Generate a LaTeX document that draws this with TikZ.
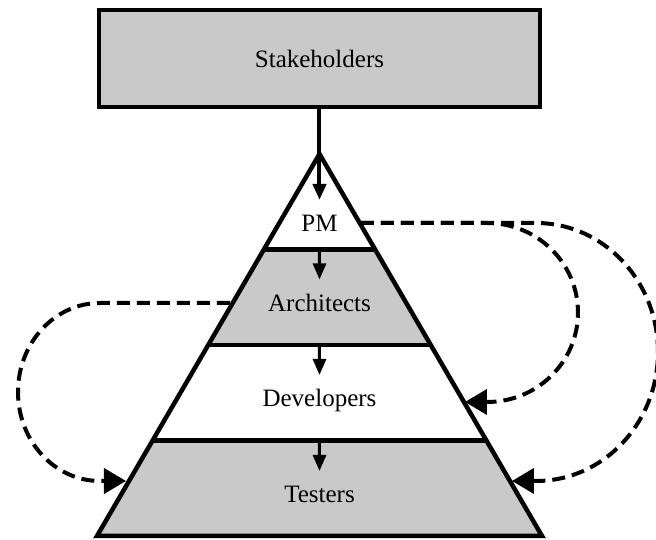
\documentclass[tikz,border=0pt]{standalone}
\usepackage{fontspec}
\setmainfont{Liberation Serif}
\usetikzlibrary{arrows.meta,calc}

\definecolor{tiergray}{RGB}{201,201,201}

\tikzset{
  pyramid/.style={line width=1.8pt},
  lbl/.style={font=\fontsize{10}{12}\selectfont, inner xsep=2pt, inner ysep=4.6pt,
    text height=8pt, text depth=0pt, anchor=base},
  tierarrow/.style={line width=1.2pt, -{Triangle[length=6.4pt,width=5.2pt]}},
  feedback/.style={line width=1.6pt, dash pattern=on 5.2pt off 2.8pt,
    -{Triangle[length=8.8pt,width=10pt]}}
}

\begin{document}
\begin{tikzpicture}[x=0.4pt,y=0.4pt]
\fill[white] (0,0) rectangle (656,540);
\useasboundingbox (0,0) rectangle (656,540);

% pyramid corners and tier lines
\coordinate (apex) at (319.5,386);
\coordinate (bl) at (97,4);
\coordinate (br) at (542,4);
\foreach \i/\f in {1/0.25,2/0.5,3/0.75} {
  \coordinate (s\i l) at ($(apex)!\f!(bl)$);
  \coordinate (s\i r) at ($(apex)!\f!(br)$);
  \coordinate (m\i) at ($(s\i l)!0.5!(s\i r)$);
}

% grey tiers
\fill[tiergray] (s1l) -- (s1r) -- (s2r) -- (s2l) -- cycle;
\fill[tiergray] (s3l) -- (s3r) -- (br) -- (bl) -- cycle;
\draw[pyramid] (apex) -- (br) -- (bl) -- cycle;
\foreach \i in {1,2,3}
  \draw[pyramid] (s\i l) -- (s\i r);

\node[draw, pyramid, fill=tiergray, minimum width=176.4pt, minimum height=38.8pt,
  font=\fontsize{10}{12}\selectfont] (stake) at (319.5,481.5) {Stakeholders};

\node[lbl] (pm) at (319.5,308) {PM};
\node[lbl] (arch) at (319.5,228.5) {Architects};
\node[lbl] (dev) at (319.5,133) {Developers};
\node[lbl] (test) at (319.5,37) {Testers};

\draw[tierarrow, line width=1.6pt] (stake.south) -- (pm.north);
\draw[tierarrow] (m1) -- (arch.north);
\draw[tierarrow] (m2) -- (dev.north);
\draw[tierarrow] (m3) -- (test.north);

% ends of the dashed loops on the pyramid sides
\coordinate (pmEdge) at (361,317);
\coordinate (archEdge) at (230,237);
\coordinate (devEdge) at (465,138);
\coordinate (testEdgeR) at (512,59);
\coordinate (testEdgeL) at (126,59);

\draw[feedback] (pmEdge) -- (487,317)
  arc[start angle=90, end angle=-90, x radius=91, y radius=89.5] -- (devEdge);
\draw[feedback] (pmEdge) -- (536,317)
  arc[start angle=90, end angle=-90, x radius=122, y radius=129] -- (testEdgeR);
\draw[feedback] (archEdge) -- (100,237)
  arc[start angle=90, end angle=270, x radius=82, y radius=89] -- (testEdgeL);

\end{tikzpicture}
\end{document}
